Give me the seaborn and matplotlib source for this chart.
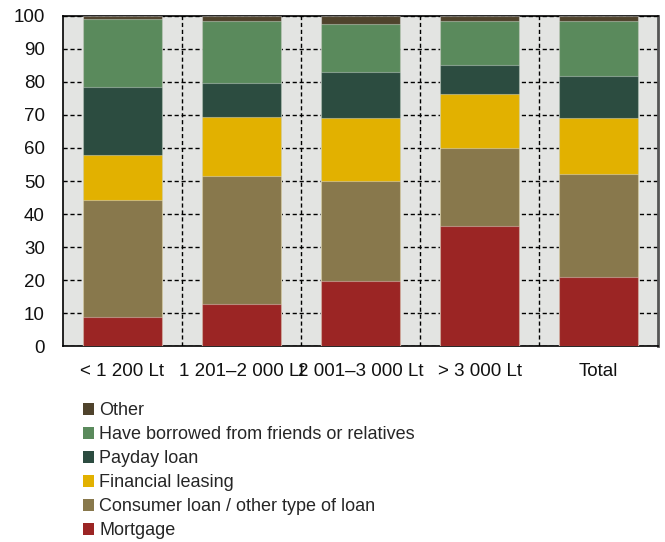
import matplotlib
matplotlib.use("Agg")
import matplotlib.pyplot as plt
from matplotlib.patches import Patch
import numpy as np
import pandas as pd
import seaborn as sns

# Income groups and the share (%) of borrowers by type of loan
groups = ["< 1 200 Lt", "1 201–2 000 Lt", "2 001–3 000 Lt", "> 3 000 Lt", "Total"]
mortgage = [8.8, 12.8, 19.7, 36.4, 21.0]
consumer = [35.5, 38.8, 30.3, 23.7, 31.2]
leasing = [13.6, 17.8, 19.2, 16.3, 16.9]
payday = [20.6, 10.2, 13.7, 8.7, 12.8]
friends = [20.6, 19.0, 14.8, 13.4, 16.5]
other = [0.9, 1.4, 2.3, 1.5, 1.6]

series_names = ["Mortgage", "Consumer loan / other type of loan", "Financial leasing",
                "Payday loan", "Have borrowed from friends or relatives", "Other"]
series_values = [mortgage, consumer, leasing, payday, friends, other]
series_colors = ["#9B2524", "#88784C", "#E2B100", "#2C4C40", "#5A8A5C", "#4F432C"]

sns.set_theme(style="white")
plt.rcParams["font.family"] = ["Liberation Sans", "DejaVu Sans"]

fig = plt.figure(figsize=(6.65, 5.42), dpi=100)
ax = fig.add_axes([0.0947, 0.3616, 0.8948, 0.6089])
ax.set_facecolor("#E3E4E2")

# Stacked bars: draw cumulative totals from the top layer down
cum = np.cumsum(np.array(series_values), axis=0)
for i in range(len(series_names) - 1, -1, -1):
    df = pd.DataFrame({"group": groups, "value": cum[i]})
    sns.barplot(data=df, x="group", y="value", order=groups, color=series_colors[i],
                saturation=1, width=0.66, edgecolor=(1, 1, 1, 0.35), linewidth=0.8,
                ax=ax, zorder=3)

ax.set_ylim(0, 100)
ax.set_xlim(-0.5, len(groups) - 0.5)
ax.set_yticks(range(0, 101, 10))
ax.set_xlabel("")
ax.set_ylabel("")

# Dashed grid: horizontal every 10, vertical between groups
ax.set_xticks(np.arange(0.5, len(groups) - 0.5, 1), minor=True)
ax.grid(axis="y", which="major", color="black", linestyle=(0, (3, 2)), linewidth=1.0, zorder=1)
ax.grid(axis="x", which="minor", color="black", linestyle=(0, (3, 2)), linewidth=1.0, zorder=1)
ax.grid(axis="x", which="major", visible=False)
ax.set_axisbelow(True)

ax.tick_params(axis="both", which="both", length=0, labelsize=13.5, colors="#111111")
ax.tick_params(axis="y", pad=13)
ax.tick_params(axis="x", pad=12)

for side in ["left", "top", "bottom"]:
    ax.spines[side].set_color("black")
    ax.spines[side].set_linewidth(1.2)
ax.spines["right"].set_color("#555555")
ax.spines["right"].set_linewidth(2.0)

handles = [Patch(facecolor=c, edgecolor="none") for c in series_colors][::-1]
labels = series_names[::-1]
fig.legend(handles, labels, loc="upper left", bbox_to_anchor=(0.1248, 0.258),
           frameon=False, fontsize=13, handlelength=0.6, handleheight=0.6,
           handletextpad=0.3, labelspacing=0.39, borderaxespad=0, borderpad=0)

fig.savefig("out.png", dpi=100)
